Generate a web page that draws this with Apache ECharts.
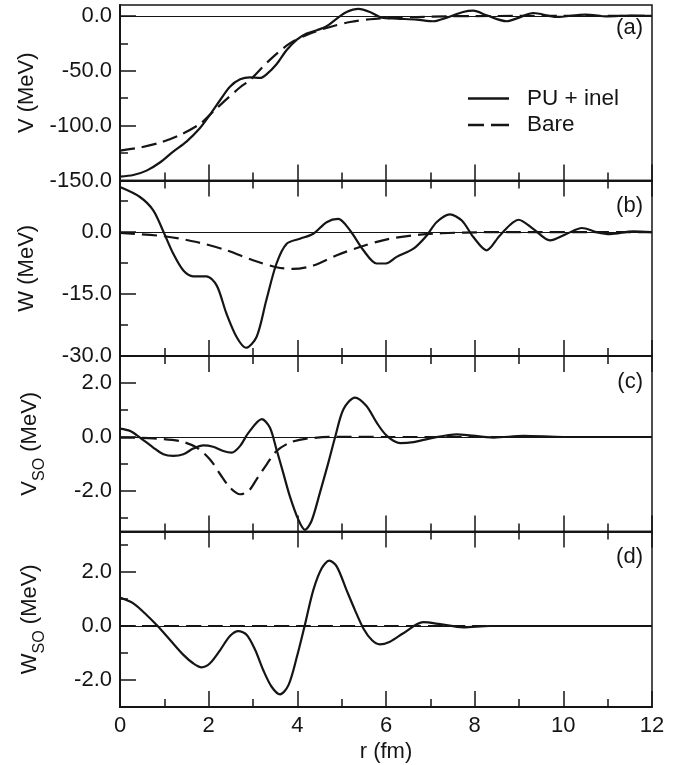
<!DOCTYPE html>
<html><head><meta charset="utf-8">
<script src="https://cdn.jsdelivr.net/npm/echarts@6/dist/echarts.min.js"></script>
<style>html,body{margin:0;padding:0;background:#fff}#c{width:689px;height:765px}</style>
</head><body><div id="c"></div>
<script>
// ---------------- data ----------------
const seriesNames = ['PU + inel', 'Bare'];
const panelLabels = ['(a)', '(b)', '(c)', '(d)'];

// (a) V (MeV)
const aPU_r = [0, 0.3, 0.6, 0.9, 1.2, 1.5, 1.8, 2.03, 2.26, 2.48, 2.71, 2.93, 3.16, 3.31, 3.53, 3.76, 3.99, 4.21, 4.44, 4.66, 4.89, 5.11, 5.38, 5.64, 5.9, 6.24, 6.69, 7.07, 7.37, 7.74, 7.97, 8.27, 8.72, 9.0, 9.32, 9.85, 10.5, 11.0, 11.5, 12];
const aPU_v = [-146.4, -145, -141, -133.6, -123.6, -114.5, -102.4, -90, -76.6, -64.5, -57.8, -56, -56.5, -53, -44, -31, -21.5, -16, -13, -9.4, -2.4, 3.6, 6.4, 3.6, -1.5, -2.4, -3.3, -4.8, -1.5, 3.6, 4.8, 0.6, -4.8, -1.5, 2.7, -0.9, 1.3, -0.4, 0.3, 0];
const aBare_r = [0, 0.45, 0.9, 1.35, 1.8, 2.1, 2.4, 2.71, 2.93, 3.38, 3.83, 4.29, 4.74, 5.19, 5.64, 6.09, 6.69, 7.37, 8, 9, 10, 12];
const aBare_v = [-122.7, -120, -115.5, -108.5, -98.5, -87.3, -76, -65, -58.5, -40, -25, -16, -10, -5.5, -3, -1.8, -1, -0.3, -0.1, 0, 0, 0];

// (b) W (MeV)
const bPU_r = [0, 0.45, 0.75, 1.0, 1.2, 1.43, 1.65, 1.95, 2.18, 2.4, 2.63, 2.84, 3.08, 3.3, 3.53, 3.76, 4.06, 4.36, 4.66, 4.92, 5.19, 5.49, 5.79, 6.0, 6.24, 6.62, 6.92, 7.14, 7.44, 7.71, 7.97, 8.27, 8.57, 8.99, 9.32, 9.7, 10.08, 10.42, 10.75, 11.05, 11.58, 12];
const bPU_v = [10.9, 8.5, 5.25, -0.4, -5.2, -9.3, -10.7, -10.7, -12.9, -19.7, -25.4, -28, -25.4, -16.5, -7.6, -2.8, -1.6, -0.4, 2.4, 3.2, 0.4, -4.4, -7.6, -7.6, -6.0, -4.0, -0.8, 2.4, 4.3, 2.8, -1.2, -4.4, -0.8, 3.0, 0.8, -2.0, -0.4, 1.0, 0, -0.5, 0.2, 0];
const bBare_r = [0, 1.0, 1.73, 2.4, 3.0, 3.53, 3.9, 4.36, 4.89, 5.41, 6.0, 6.77, 7.74, 9, 12];
const bBare_v = [-0.2, -1.0, -2.4, -4.4, -6.8, -8.5, -8.9, -8.1, -5.6, -3.6, -1.8, -0.6, -0.1, 0, 0];

// (c) V_SO (MeV)
const cPU_r = [0, 0.23, 0.45, 0.75, 0.98, 1.2, 1.43, 1.65, 1.88, 2.1, 2.33, 2.52, 2.71, 2.9, 3.2, 3.38, 3.53, 3.68, 3.83, 4.02, 4.17, 4.32, 4.51, 4.7, 4.85, 5.04, 5.3, 5.56, 5.79, 6.02, 6.32, 6.62, 7.0, 7.6, 8.43, 9.1, 10, 12];
const cPU_v = [0.31, 0.22, -0.02, -0.39, -0.64, -0.70, -0.64, -0.43, -0.31, -0.36, -0.52, -0.58, -0.33, 0.16, 0.66, 0.35, -0.46, -1.32, -2.19, -3.05, -3.44, -3.11, -2.06, -0.95, -0.02, 1.03, 1.46, 1.15, 0.53, 0.04, -0.23, -0.19, -0.05, 0.1, -0.02, 0.04, 0, 0];
const cBare_r = [0, 0.75, 1.35, 1.73, 2.03, 2.26, 2.48, 2.71, 2.9, 3.08, 3.31, 3.53, 3.83, 4.21, 4.9, 6, 12];
const cBare_v = [-0.02, -0.05, -0.15, -0.39, -0.83, -1.38, -1.87, -2.12, -2.0, -1.57, -1.01, -0.52, -0.21, -0.06, 0.01, 0, 0];

// (d) W_SO (MeV)
const dPU_r = [0, 0.3, 0.6, 0.86, 1.13, 1.43, 1.65, 1.84, 2.03, 2.26, 2.48, 2.67, 2.86, 3.05, 3.23, 3.42, 3.61, 3.8, 3.99, 4.17, 4.36, 4.55, 4.72, 4.89, 5.11, 5.3, 5.49, 5.68, 5.86, 6.09, 6.39, 6.84, 7.22, 7.74, 8.34, 9, 12];
const dPU_v = [1.05, 0.84, 0.41, -0.02, -0.52, -1.07, -1.38, -1.53, -1.38, -0.89, -0.37, -0.19, -0.33, -0.89, -1.63, -2.25, -2.53, -2.19, -1.14, 0.04, 1.33, 2.14, 2.42, 2.2, 1.33, 0.59, -0.09, -0.52, -0.68, -0.58, -0.27, 0.14, 0.07, -0.05, 0, 0, 0];
const dBare_r = [0, 2, 4, 6, 8, 10, 12];
const dBare_v = [0, 0, 0, 0, 0, 0, 0];

// y-axis ranges and tick values
const yRanges = [[-150, 10], [-30, 12.5], [-3.5, 3], [-3, 3.5]];
const yMajor = [[-150, -100, -50, 0], [-30, -15, 0], [-2, 0, 2], [-2, 0, 2]];
const yMinor = [[-125, -75, -25], [-22.5, -7.5, 7.5], [-3, -1, 1], [-1, 1, 3]];
const yNames = ['V (MeV)', 'W (MeV)', '{n|V}{s|SO}{n| (MeV)}', '{n|W}{s|SO}{n| (MeV)}'];
const xName = 'r (fm)';

// ---------------- chart ----------------
const FONT = 'Liberation Sans, Arial, Helvetica, sans-serif';
const INK = '#151515';
const FS = 22;
const gridTops = [5, 180.5, 356, 531.5];
const gridH = 175.5;

function pairs(r, v) { return r.map((x, i) => [x, v[i]]); }
const puData = [pairs(aPU_r, aPU_v), pairs(bPU_r, bPU_v), pairs(cPU_r, cPU_v), pairs(dPU_r, dPU_v)];
const bareData = [pairs(aBare_r, aBare_v), pairs(bBare_r, bBare_v), pairs(cBare_r, cBare_v), pairs(dBare_r, dBare_v)];

const grids = [], xAxes = [], yAxes = [], series = [], graphics = [];
for (let i = 0; i < 4; i++) {
  grids.push({left: 120, width: 532, top: gridTops[i], height: gridH, show: true,
    borderColor: INK, borderWidth: 1.5, backgroundColor: 'transparent'});
  const bottomIdx = xAxes.length;
  xAxes.push({
    type: 'value', gridIndex: i, position: 'bottom', min: 0, max: 12, interval: 2,
    axisLine: {show: true, onZero: false, lineStyle: {color: INK, width: 2}},
    axisTick: {show: true, inside: true, length: 16, lineStyle: {color: INK, width: 1.5}},
    minorTick: {show: true, splitNumber: 2, length: 8, lineStyle: {color: INK, width: 1.5}},
    splitLine: {show: false},
    axisLabel: {show: i === 3, margin: 8, color: INK, fontSize: FS, fontFamily: FONT},
    name: i === 3 ? xName : '', nameLocation: 'middle', nameGap: 34,
    nameTextStyle: {color: INK, fontSize: FS, fontFamily: FONT}
  });
  if (i > 0) {
    xAxes.push({
      type: 'value', gridIndex: i, position: 'top', min: 0, max: 12, interval: 2,
      axisLine: {show: true, onZero: false, lineStyle: {color: INK, width: 2}},
      axisTick: {show: true, inside: true, length: 16, lineStyle: {color: INK, width: 1.5}},
      minorTick: {show: true, splitNumber: 2, length: 8, lineStyle: {color: INK, width: 1.5}},
      splitLine: {show: false}, axisLabel: {show: false}
    });
  }
  const majorIdx = yAxes.length;
  const isRich = i >= 2;
  yAxes.push({
    type: 'value', gridIndex: i, position: 'left', min: yRanges[i][0], max: yRanges[i][1],
    axisLine: {show: true, onZero: false, lineStyle: {color: INK, width: 2}},
    axisTick: {show: true, inside: true, length: 16, customValues: yMajor[i], lineStyle: {color: INK, width: 1.5}},
    axisLabel: {show: true, customValues: yMajor[i], margin: 8, color: INK, fontSize: FS, fontFamily: FONT,
      formatter: v => v.toFixed(1)},
    splitLine: {show: false},
    name: yNames[i], nameLocation: 'middle', nameGap: isRich ? 76 : 82,
    nameTextStyle: isRich ? {
      color: INK, fontFamily: FONT, fontSize: FS,
      rich: {
        n: {fontSize: FS, fontFamily: FONT, color: INK, lineHeight: 25, verticalAlign: 'top'},
        s: {fontSize: 16, fontFamily: FONT, color: INK, lineHeight: 16, padding: [13, 0, 0, 0], verticalAlign: 'top'}
      }
    } : {color: INK, fontSize: FS, fontFamily: FONT}
  });
  yAxes.push({
    type: 'value', gridIndex: i, position: 'left', min: yRanges[i][0], max: yRanges[i][1],
    axisLine: {show: false},
    axisTick: {show: true, inside: true, length: 8, customValues: yMinor[i], lineStyle: {color: INK, width: 1.5}},
    axisLabel: {show: false}, splitLine: {show: false}
  });
  series.push({
    name: seriesNames[0], type: 'line', xAxisIndex: bottomIdx, yAxisIndex: majorIdx,
    data: puData[i], showSymbol: false, symbol: 'none', smooth: 0.3,
    lineStyle: {color: INK, width: 2.2, type: 'solid'}, itemStyle: {color: INK},
    z: 4,
    markLine: {silent: true, symbol: ['none', 'none'], label: {show: false},
      lineStyle: {color: INK, width: 1, type: 'solid'}, data: [{yAxis: 0}], animation: false}
  });
  series.push({
    name: seriesNames[1], type: 'line', xAxisIndex: bottomIdx, yAxisIndex: majorIdx,
    data: bareData[i], showSymbol: false, symbol: 'none', smooth: 0.3,
    lineStyle: {color: INK, width: 2.2, type: [15, 7]}, itemStyle: {color: INK},
    z: 3
  });
  graphics.push({type: 'text', right: 46, top: [17, 195, 371, 546][i],
    style: {text: panelLabels[i], font: FS + 'px ' + FONT, fill: INK}});
}

const chart = echarts.init(document.getElementById('c'), null, {renderer: 'canvas'});
chart.setOption({
  animation: false,
  backgroundColor: '#fff',
  grid: grids, xAxis: xAxes, yAxis: yAxes, series: series, graphic: graphics,
  legend: {
    data: [
      {name: seriesNames[0], icon: 'path://M0,0H41V2.4H0Z'},
      {name: seriesNames[1], icon: 'path://M0,0H16V2.4H0Z M23,0H41V2.4H23Z'}
    ],
    orient: 'vertical', left: 463, top: 82,
    itemWidth: 41, itemHeight: 2.4, itemGap: 3.5,
    itemStyle: {color: INK, borderWidth: 0},
    textStyle: {color: INK, fontSize: 22.5, fontFamily: FONT, lineHeight: 20, padding: [0, 0, 0, 13]},
    selectedMode: false
  }
});
</script></body></html>
